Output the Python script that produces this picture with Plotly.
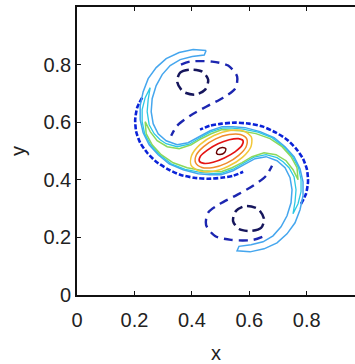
import plotly.graph_objects as go

# ---------------- data ----------------
# Light-blue contour (reaches both arm tips): upper-arm convex edge and concave edge
b_convex_up_x = [0.4497, 0.4045, 0.3557, 0.3105, 0.2757, 0.2478, 0.2304, 0.2200, 0.2200, 0.2304, 0.2513, 0.2826, 0.3209, 0.3697, 0.4219, 0.4637, 0.5019]
b_convex_up_y = [0.8487, 0.8522, 0.8417, 0.8209, 0.7896, 0.7513, 0.7061, 0.6574, 0.6087, 0.5635, 0.5217, 0.4870, 0.4557, 0.4348, 0.4209, 0.4174, 0.4174]
b_concave_up_x = [0.4497, 0.4430, 0.4010, 0.3592, 0.3244, 0.2966, 0.2757, 0.2617, 0.2583, 0.2652, 0.2826, 0.3105, 0.3487, 0.3871, 0.4253, 0.4637, 0.5054]
b_concave_up_y = [0.8487, 0.8330, 0.8278, 0.8174, 0.7965, 0.7652, 0.7270, 0.6817, 0.6365, 0.5948, 0.5600, 0.5357, 0.5217, 0.5287, 0.5496, 0.5704, 0.5843]
b_convex_lo_x = [0.5573, 0.6025, 0.6513, 0.6965, 0.7313, 0.7592, 0.7766, 0.7870, 0.7870, 0.7766, 0.7557, 0.7244, 0.6861, 0.6373, 0.5851, 0.5433, 0.5051]
b_convex_lo_y = [0.1533, 0.1498, 0.1603, 0.1811, 0.2124, 0.2507, 0.2959, 0.3446, 0.3933, 0.4385, 0.4803, 0.5150, 0.5463, 0.5672, 0.5811, 0.5846, 0.5846]
b_concave_lo_x = [0.5573, 0.5640, 0.6060, 0.6478, 0.6826, 0.7104, 0.7313, 0.7453, 0.7487, 0.7418, 0.7244, 0.6965, 0.6583, 0.6199, 0.5817, 0.5433, 0.5016]
b_concave_lo_y = [0.1533, 0.1690, 0.1742, 0.1846, 0.2055, 0.2368, 0.2750, 0.3203, 0.3655, 0.4072, 0.4420, 0.4663, 0.4803, 0.4733, 0.4524, 0.4316, 0.4177]

# Cyan contour
c_convex_up_x = [0.2548, 0.2374, 0.2269, 0.2269, 0.2356, 0.2565, 0.2879, 0.3279, 0.3766, 0.4288, 0.4671, 0.5019]
c_convex_up_y = [0.7200, 0.6852, 0.6435, 0.6017, 0.5600, 0.5217, 0.4870, 0.4557, 0.4365, 0.4261, 0.4226, 0.4226]
c_concave_up_x = [0.2548, 0.2478, 0.2443, 0.2513, 0.2687, 0.2896, 0.3105, 0.3487, 0.3906, 0.4288, 0.4637, 0.5054]
c_concave_up_y = [0.7200, 0.6783, 0.6365, 0.5913, 0.5600, 0.5391, 0.5252, 0.5148, 0.5235, 0.5461, 0.5652, 0.5791]
c_convex_lo_x = [0.7522, 0.7696, 0.7801, 0.7801, 0.7714, 0.7505, 0.7191, 0.6791, 0.6304, 0.5782, 0.5399, 0.5051]
c_convex_lo_y = [0.2820, 0.3168, 0.3585, 0.4003, 0.4420, 0.4803, 0.5150, 0.5463, 0.5655, 0.5759, 0.5794, 0.5794]
c_concave_lo_x = [0.7522, 0.7592, 0.7627, 0.7557, 0.7383, 0.7174, 0.6965, 0.6583, 0.6164, 0.5782, 0.5433, 0.5016]
c_concave_lo_y = [0.2820, 0.3237, 0.3655, 0.4107, 0.4420, 0.4629, 0.4768, 0.4872, 0.4785, 0.4559, 0.4368, 0.4229]

# Green contour
d_bottom_up_x = [0.2374, 0.2409, 0.2617, 0.2931, 0.3348, 0.3836, 0.4393, 0.5019]
d_bottom_up_y = [0.6017, 0.5600, 0.5217, 0.4870, 0.4591, 0.4417, 0.4313, 0.4278]
d_top_up_x = [0.2374, 0.2548, 0.2791, 0.3140, 0.3557, 0.3975, 0.4323, 0.4671, 0.5054]
d_top_up_y = [0.6017, 0.5670, 0.5357, 0.5148, 0.5078, 0.5217, 0.5426, 0.5600, 0.5739]
d_bottom_lo_x = [0.7696, 0.7661, 0.7453, 0.7139, 0.6722, 0.6234, 0.5677, 0.5051]
d_bottom_lo_y = [0.4003, 0.4420, 0.4803, 0.5150, 0.5429, 0.5603, 0.5707, 0.5742]
d_top_lo_x = [0.7696, 0.7522, 0.7279, 0.6930, 0.6513, 0.6095, 0.5747, 0.5399, 0.5016]
d_top_lo_y = [0.4003, 0.4350, 0.4663, 0.4872, 0.4942, 0.4803, 0.4594, 0.4420, 0.4281]

# Central closed contours
yellow_x = [0.607, 0.581, 0.533, 0.477, 0.428, 0.399, 0.397, 0.424, 0.471, 0.527, 0.576, 0.606, 0.607]
yellow_y = [0.549, 0.569, 0.571, 0.554, 0.522, 0.484, 0.451, 0.431, 0.429, 0.447, 0.478, 0.516, 0.549]
orange_x = [0.591, 0.569, 0.530, 0.483, 0.441, 0.415, 0.413, 0.435, 0.475, 0.521, 0.563, 0.589, 0.591]
orange_y = [0.542, 0.557, 0.557, 0.542, 0.515, 0.485, 0.459, 0.443, 0.443, 0.458, 0.485, 0.515, 0.542]
red_x = [0.578, 0.562, 0.530, 0.491, 0.454, 0.430, 0.426, 0.442, 0.474, 0.513, 0.550, 0.574, 0.578]
red_y = [0.536, 0.543, 0.539, 0.525, 0.503, 0.482, 0.465, 0.457, 0.461, 0.476, 0.497, 0.519, 0.536]
darkred_x = [0.518, 0.506, 0.490, 0.486, 0.498, 0.514, 0.518]
darkred_y = [0.508, 0.5125, 0.505, 0.492, 0.4875, 0.495, 0.508]

# Dark-blue outermost positive contour (broken, on convex sides)
a_up_x = [0.2269, 0.2095, 0.2026, 0.2061, 0.2200, 0.2443, 0.2757, 0.3140, 0.3592, 0.4080, 0.4567, 0.5019, 0.5437, 0.5785]
a_up_y = [0.6852, 0.6504, 0.6087, 0.5670, 0.5287, 0.4939, 0.4626, 0.4383, 0.4174, 0.4070, 0.4035, 0.4070, 0.4139, 0.4278]
a_lo_x = [0.7801, 0.7975, 0.8044, 0.8009, 0.7870, 0.7627, 0.7313, 0.6930, 0.6478, 0.5990, 0.5503, 0.5051, 0.4633, 0.4285]
a_lo_y = [0.3168, 0.3516, 0.3933, 0.4350, 0.4733, 0.5081, 0.5394, 0.5637, 0.5846, 0.5950, 0.5985, 0.5950, 0.5881, 0.5742]

# Negative (dashed) contours: inner lobes and outer rings
neg_in_up_x = [0.3487, 0.3592, 0.3940, 0.4358, 0.4567, 0.4463, 0.4114, 0.3697, 0.3487]
neg_in_up_y = [0.7409, 0.7722, 0.7826, 0.7757, 0.7478, 0.7130, 0.6957, 0.7061, 0.7409]
neg_in_lo_x = [0.6513, 0.6408, 0.6060, 0.5642, 0.5433, 0.5537, 0.5886, 0.6303, 0.6513]
neg_in_lo_y = [0.2641, 0.2328, 0.2224, 0.2293, 0.2572, 0.2920, 0.3093, 0.2989, 0.2641]
neg_out_up_x = [0.3620, 0.3940, 0.4706, 0.5263, 0.5576, 0.5507, 0.5089, 0.4497, 0.3940, 0.3487, 0.3279]
neg_out_up_y = [0.8000, 0.8104, 0.8104, 0.7965, 0.7583, 0.7165, 0.6852, 0.6539, 0.6226, 0.5878, 0.5530]
neg_out_lo_x = [0.6453, 0.6130, 0.5364, 0.4807, 0.4494, 0.4563, 0.4981, 0.5573, 0.6130, 0.6583, 0.6791]
neg_out_lo_y = [0.2017, 0.1913, 0.1913, 0.2052, 0.2434, 0.2852, 0.3165, 0.3478, 0.3791, 0.4139, 0.4487]

tick_vals = [0, 0.2, 0.4, 0.6, 0.8]
tick_text = ["0", "0.2", "0.4", "0.6", "0.8"]


def loop(s1, s2r, s3, s4r):
    """Join four path pieces into one closed S-shaped loop."""
    out = list(s1)
    out += list(reversed(s2r))[1:]
    out += list(s3)[1:]
    out += list(reversed(s4r))[1:]
    return out


b_x = loop(b_convex_up_x, b_concave_lo_x, b_convex_lo_x, b_concave_up_x)
b_y = loop(b_convex_up_y, b_concave_lo_y, b_convex_lo_y, b_concave_up_y)
c_x = loop(c_convex_up_x, c_concave_lo_x, c_convex_lo_x, c_concave_up_x)
c_y = loop(c_convex_up_y, c_concave_lo_y, c_convex_lo_y, c_concave_up_y)
d_x = loop(d_bottom_up_x, d_top_lo_x, d_bottom_lo_x, d_top_up_x)
d_y = loop(d_bottom_up_y, d_top_lo_y, d_bottom_lo_y, d_top_up_y)

fig = go.Figure()


def add(x, y, color, width, dash="solid", shape="spline", smoothing=0.8):
    line = dict(color=color, width=width, dash=dash, shape=shape)
    if shape == "spline":
        line["smoothing"] = smoothing
    fig.add_trace(go.Scatter(x=x, y=y, mode="lines", line=line,
                             hoverinfo="skip", showlegend=False))


# negative contours
add(neg_out_up_x, neg_out_up_y, "#1c26b0", 2.4, "9px,6px")
add(neg_out_lo_x, neg_out_lo_y, "#1c26b0", 2.4, "9px,6px")
add(neg_in_up_x, neg_in_up_y, "#16165c", 2.5, "9px,5px")
add(neg_in_lo_x, neg_in_lo_y, "#16165c", 2.5, "9px,5px")
# positive contours
add(a_up_x, a_up_y, "#0a22d8", 2.6, "5px,2px", "spline", 0.6)
add(a_lo_x, a_lo_y, "#0a22d8", 2.6, "5px,2px", "spline", 0.6)
add(b_x, b_y, "#45a6ee", 1.5, "solid", "linear")
add(c_x, c_y, "#2cc8e4", 1.3, "solid", "linear")
add(d_x, d_y, "#8ad85c", 1.5, "solid", "linear")
add(yellow_x, yellow_y, "#f2c83a", 1.5)
add(orange_x, orange_y, "#f08a2a", 1.5)
add(red_x, red_y, "#e41414", 1.7)
add(darkred_x, darkred_y, "#6a0000", 1.5)

axis_font = dict(family="Liberation Sans, Arial, sans-serif", size=20, color="#222222")

fig.update_layout(
    width=355, height=364,
    margin=dict(l=77, r=0, t=7, b=69),
    paper_bgcolor="white", plot_bgcolor="white",
    font=axis_font,
    xaxis=dict(range=[0, 0.968], tickvals=tick_vals, ticktext=tick_text,
               ticks="inside", ticklen=4, tickwidth=1.2, tickcolor="#111",
               showline=True, linecolor="#111", linewidth=1.6, mirror="ticks",
               showgrid=False, zeroline=False, tickfont=axis_font,
               ticklabelstandoff=6,
               title=dict(text="x", font=axis_font, standoff=18)),
    yaxis=dict(range=[0, 1], tickvals=tick_vals, ticktext=tick_text,
               ticks="inside", ticklen=4, tickwidth=1.2, tickcolor="#111",
               showline=True, linecolor="#111", linewidth=1.6,
               showgrid=False, zeroline=False, tickfont=axis_font,
               title=dict(text="y", font=axis_font, standoff=12)),
)

fig.write_html("out.html", config={"displayModeBar": False})
